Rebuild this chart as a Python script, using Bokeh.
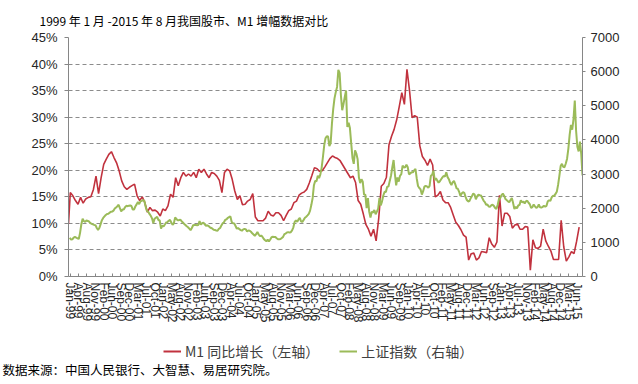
from bokeh.plotting import figure
from bokeh.layouts import column
from bokeh.models import Range1d, LinearAxis, FixedTicker, Legend, LegendItem, Label
from bokeh.embed import file_html
from bokeh.resources import INLINE

# ---------------- data ----------------
# M1 year-on-year growth (%), monthly Jan-1999 .. Aug-2015
m1_growth = [
    9.9, 15.8, 15.2, 14.3, 13.6, 14.9, 13.8, 14.6, 14.9, 15.0, 16.4, 18.9,   # 1999
    15.6, 18.6, 21.1, 22.1, 23.0, 23.5, 22.4, 21.4, 19.9, 18.0, 16.9, 16.4,  # 2000
    16.8, 17.1, 17.4, 15.2, 14.3, 15.0, 13.9, 12.1, 13.0, 12.4, 12.5, 12.1,  # 2001
    11.4, 12.7, 12.4, 13.3, 15.5, 14.9, 18.6, 17.1, 18.6, 19.6, 18.9, 19.3,  # 2002
    18.9, 19.6, 18.6, 20.2, 19.6, 20.2, 19.3, 18.6, 19.6, 19.4, 18.9, 18.1,  # 2003
    15.8, 19.6, 20.2, 19.9, 18.3, 16.1, 14.5, 15.2, 13.5, 13.6, 14.2, 14.5,  # 2004
    15.6, 11.2, 10.5, 10.5, 10.5, 11.0, 12.3, 11.6, 11.4, 12.0, 12.0, 11.5,  # 2005
    10.5, 11.5, 12.4, 12.7, 13.9, 14.2, 15.3, 15.7, 15.9, 16.4, 17.6, 19.0,  # 2006
    20.5, 20.3, 19.8, 19.9, 20.6, 21.4, 22.2, 22.7, 22.4, 22.2, 21.8, 21.0,  # 2007
    20.2, 19.4, 18.6, 18.9, 17.7, 14.3, 13.6, 11.8, 9.8, 8.9, 7.6, 8.9,      # 2008
    6.7, 10.9, 17.0, 17.5, 18.7, 24.8, 26.4, 27.7, 29.5, 32.0, 34.6, 32.4,   # 2009
    39.0, 35.0, 29.9, 30.3, 30.0, 24.6, 22.6, 21.9, 20.9, 22.1, 21.0, 15.0,  # 2010
    15.3, 16.0, 14.4, 13.9, 13.9, 13.0, 11.6, 10.2, 9.6, 8.8, 7.8, 7.4,      # 2011
    3.1, 4.3, 4.4, 3.1, 3.5, 4.7, 4.6, 4.5, 7.3, 6.1, 5.5, 6.5,              # 2012
    15.3, 9.5, 11.9, 11.9, 11.3, 9.1, 9.7, 9.9, 8.9, 8.9, 9.4, 9.3,          # 2013
    1.2, 6.9, 5.4, 5.3, 5.7, 8.9, 6.7, 5.7, 4.8, 3.2, 3.2, 3.2,              # 2014
    10.6, 5.6, 2.9, 3.7, 4.7, 4.3, 6.6, 9.3,                                 # 2015
]

# Shanghai Composite, two readings per month (month end, following mid-month)
sh_1999 = [1134, 1080, 1090, 1140, 1158, 1140, 1120, 1100, 1279, 1530, 1689, 1620,
           1601, 1640, 1627, 1610, 1566, 1540, 1528, 1510, 1503, 1420, 1367, 1420]
sh_2000 = [1535, 1650, 1715, 1760, 1801, 1830, 1836, 1870, 1894, 1900, 1928, 1990,
           2023, 2060, 2100, 2000, 1910, 1960, 1961, 2030, 2070, 2060, 2073, 2080]
sh_2001 = [2065, 1960, 1960, 2050, 2112, 2180, 2119, 2200, 2214, 2240, 2218, 2050,
           1920, 1900, 1834, 1780, 1704, 1560, 1690, 1720, 1748, 1650, 1646, 1400]
sh_2002 = [1491, 1470, 1524, 1580, 1594, 1630, 1658, 1580, 1515, 1560, 1732, 1680,
           1651, 1650, 1667, 1620, 1581, 1540, 1507, 1470, 1442, 1400, 1357, 1420]
sh_2003 = [1500, 1510, 1511, 1500, 1510, 1620, 1521, 1560, 1576, 1530, 1487, 1500,
           1477, 1440, 1421, 1400, 1367, 1360, 1349, 1340, 1397, 1420, 1497, 1560]
sh_2004 = [1590, 1660, 1676, 1720, 1742, 1760, 1595, 1560, 1555, 1480, 1400, 1420,
           1386, 1360, 1342, 1380, 1396, 1380, 1320, 1350, 1340, 1310, 1266, 1230]
sh_2005 = [1192, 1240, 1306, 1230, 1181, 1200, 1159, 1100, 1060, 1030, 1080, 1030,
           1083, 1150, 1162, 1160, 1155, 1120, 1092, 1090, 1099, 1130, 1161, 1240]
sh_2006 = [1258, 1290, 1299, 1290, 1298, 1350, 1440, 1600, 1641, 1600, 1672, 1720,
           1612, 1600, 1658, 1720, 1752, 1790, 1837, 1930, 2099, 2300, 2675, 2800]
sh_2007 = [2786, 2950, 2881, 2990, 3183, 3500, 3841, 4050, 4109, 4100, 3820, 3900,
           4471, 4900, 5218, 5400, 5552, 6050, 5955, 5300, 4871, 5050, 5262, 5450]
sh_2008 = [4383, 4500, 4348, 3900, 3472, 3300, 3693, 3600, 3433, 2900, 2736, 2850,
           2775, 2400, 2397, 2000, 2293, 1900, 1729, 1900, 1871, 1950, 1821, 1900]
sh_2009 = [1991, 2300, 2082, 2200, 2373, 2480, 2477, 2630, 2633, 2800, 2959, 3200,
           3412, 3000, 2667, 2900, 2779, 2950, 2996, 3250, 3195, 3200, 3277, 3200]
sh_2010 = [2989, 3020, 3051, 3050, 3110, 3150, 2871, 2650, 2592, 2550, 2398, 2500,
           2638, 2650, 2639, 2600, 2655, 2950, 2979, 3100, 2820, 2880, 2808, 2750]
sh_2011 = [2791, 2850, 2905, 2950, 2928, 3050, 2911, 2850, 2743, 2680, 2762, 2800,
           2701, 2580, 2568, 2480, 2359, 2430, 2468, 2450, 2333, 2240, 2199, 2210]
sh_2012 = [2293, 2360, 2428, 2400, 2262, 2350, 2397, 2380, 2373, 2300, 2225, 2180,
           2103, 2110, 2047, 2040, 2086, 2100, 2069, 2010, 1980, 2100, 2269, 2300]
sh_2013 = [2385, 2430, 2366, 2270, 2237, 2200, 2178, 2240, 2301, 2150, 1979, 2040,
           1994, 2080, 2098, 2230, 2175, 2190, 2141, 2200, 2220, 2160, 2116, 2010]
sh_2014 = [2033, 2110, 2056, 2010, 2033, 2110, 2026, 2020, 2039, 2070, 2048, 2070,
           2202, 2230, 2217, 2320, 2364, 2360, 2420, 2480, 2683, 2950, 3235, 3300]
sh_2015 = [3210, 3200, 3310, 3450, 3748, 4150, 4441, 4300, 4612, 5150, 4277, 3800,
           3664, 3950, 3600, 2960]

tick_labels = [
    "Jan-99", "Apr-99", "Aug-99", "Nov-99", "Feb-00", "Jun-00", "Sep-00", "Dec-00",
    "Mar-01", "Jul-01", "Oct-01", "Jan-02", "May-02", "Aug-02", "Nov-02", "Feb-03",
    "Jun-03", "Sep-03", "Dec-03", "Apr-04", "Jul-04", "Oct-04", "Jan-05", "May-05",
    "Aug-05", "Nov-05", "Mar-06", "Jun-06", "Sep-06", "Dec-06", "Apr-07", "Jul-07",
    "Oct-07", "Feb-08", "May-08", "Aug-08", "Nov-08", "Mar-09", "Jun-09", "Sep-09",
    "Jan-10", "Apr-10", "Jul-10", "Oct-10", "Feb-11", "May-11", "Aug-11", "Dec-11",
    "Mar-12", "Jun-12", "Sep-12", "Jan-13", "Apr-13", "Jul-13", "Nov-13", "Feb-14",
    "May-14", "Aug-14", "Dec-14", "Mar-15", "Jun-15",
]

left_ticks = [0, 5, 10, 15, 20, 25, 30, 35, 40, 45]
right_ticks = [0, 1000, 2000, 3000, 4000, 5000, 6000, 7000]

title_text = "1999 年 1 月 -2015 年 8 月我国股市、M1 增幅数据对比"
m1_name = "M1 同比增长（左轴）"
sh_name = "上证指数（右轴）"
source_text = "数据来源：中国人民银行、大智慧、易居研究院。"

# ---------------- positions (x in 1/100 month) ----------------
sh_index = (sh_1999 + sh_2000 + sh_2001 + sh_2002 + sh_2003 + sh_2004 + sh_2005 +
            sh_2006 + sh_2007 + sh_2008 + sh_2009 + sh_2010 + sh_2011 + sh_2012 +
            sh_2013 + sh_2014 + sh_2015)
m1_x = [max(100 * m - 30, 0) for m in range(len(m1_growth))]
sh_x = [50 * i + 50 for i in range(len(sh_index))]
tick_pos = [60 + 329 * k for k in range(len(tick_labels))]

RED = "#C1323E"
GREEN = "#9BBB59"
AXIS = "#868686"
TXT = "#262626"
CJK = "Noto Sans CJK SC"
W = 638

p = figure(width=W, height=330, x_range=Range1d(0, 20000), y_range=Range1d(0, 45),
           output_backend="svg", toolbar_location=None,
           min_border_left=68, min_border_right=56, min_border_top=36, min_border_bottom=54)
p.frame_align = False
p.extra_y_ranges = {"idx": Range1d(0, 7000)}
p.outline_line_color = None
p.background_fill_color = "white"
p.border_fill_color = "white"

p.title.text = title_text
p.title.align = "left"
p.title.offset = -29
p.title.text_font = CJK
p.title.text_font_size = "12px"
p.title.text_font_style = "normal"
p.title.text_color = "#000000"
p.title.standoff = 18

# grid
yt = FixedTicker(ticks=left_ticks)
p.xgrid.visible = False
p.ygrid.ticker = yt
p.ygrid.grid_line_color = "#8C8C8C"
p.ygrid.grid_line_dash = "4 3"
p.ygrid.grid_line_width = 1

# x axis
xa = p.xaxis[0]
xa.ticker = FixedTicker(ticks=tick_pos)
xa.major_label_overrides = {t: l for t, l in zip(tick_pos, tick_labels)}
xa.major_label_orientation = "vertical"
xa.major_label_text_font = "Liberation Sans"
xa.major_label_text_font_size = "12px"
xa.major_label_text_color = TXT
xa.major_label_standoff = 6
xa.axis_line_color = AXIS
xa.major_tick_line_color = AXIS
xa.major_tick_in = 3
xa.major_tick_out = 0
xa.minor_tick_line_color = None

# left axis
ya = p.yaxis[0]
ya.ticker = yt
ya.major_label_overrides = {v: f"{v}%" for v in left_ticks}
ya.major_label_text_font = "Liberation Sans"
ya.major_label_text_font_size = "13px"
ya.major_label_text_color = TXT
ya.major_label_standoff = 7
ya.axis_line_color = AXIS
ya.major_tick_line_color = AXIS
ya.major_tick_in = 0
ya.major_tick_out = 4
ya.minor_tick_line_color = None

# right axis
ra = LinearAxis(y_range_name="idx", ticker=FixedTicker(ticks=right_ticks))
ra.major_label_text_font = "Liberation Sans"
ra.major_label_text_font_size = "13px"
ra.major_label_text_color = TXT
ra.major_label_standoff = 5
ra.axis_line_color = AXIS
ra.major_tick_line_color = AXIS
ra.major_tick_in = 0
ra.major_tick_out = 3
ra.minor_tick_line_color = None
p.add_layout(ra, "right")

p.line(m1_x, m1_growth, line_color=RED, line_width=1.6)
p.line(sh_x, sh_index, line_color=GREEN, line_width=2.0, y_range_name="idx")

# ---------------- bottom strip: legend + source ----------------
q = figure(width=W, height=54, x_range=Range1d(0, 1), y_range=Range1d(0, 1),
           output_backend="svg", toolbar_location=None,
           x_axis_location=None, y_axis_location=None,
           min_border_left=0, min_border_right=0, min_border_top=0, min_border_bottom=0)
q.frame_align = False
q.outline_line_color = None
q.xgrid.visible = False
q.ygrid.visible = False
q.background_fill_color = "white"
q.border_fill_color = "white"
q.title.visible = False

nan = float("nan")
k1 = q.line([nan], [nan], line_color=RED, line_width=2)
k2 = q.line([nan], [nan], line_color=GREEN, line_width=2)
legend = Legend(items=[LegendItem(label=m1_name, renderers=[k1]),
                       LegendItem(label=sh_name, renderers=[k2])],
                location=(163, 23), orientation="horizontal",
                glyph_width=18, glyph_height=14, label_standoff=4, spacing=20,
                padding=0, margin=0, border_line_color=None,
                background_fill_alpha=0,
                label_text_font=CJK, label_text_font_size="14px",
                label_text_color="#404040")
q.add_layout(legend)

q.add_layout(Label(x=2, y=15, x_units="screen", y_units="screen", text=source_text,
                   text_font=CJK, text_font_size="12.5px", text_color="#000000",
                   text_baseline="middle"))

open("out.html", "w").write(file_html(column(p, q, spacing=0), INLINE))
